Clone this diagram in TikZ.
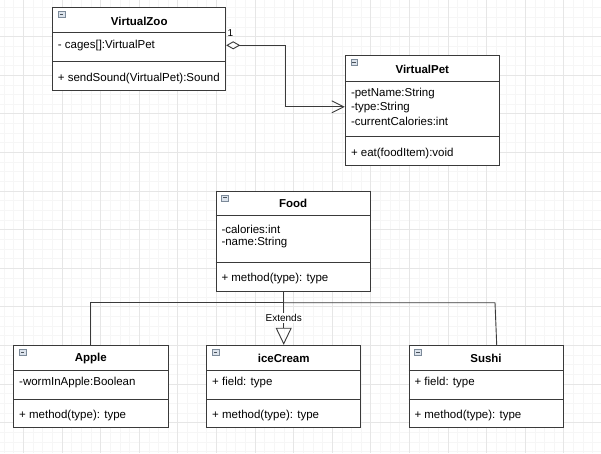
\documentclass[tikz,border=0pt]{standalone}
\usepackage{fontspec}
\setmainfont{Liberation Sans}
\usetikzlibrary{arrows.meta,calc}
\definecolor{gridmaj}{HTML}{E6E6E6}
\definecolor{gridmin}{HTML}{F6F6F6}
\definecolor{lnc}{HTML}{3A3A3A}
\definecolor{iconb}{HTML}{7C8A99}
\definecolor{iconf}{HTML}{DCE3EC}
\newcommand{\umlcls}[9]{%
  \node[clsbox, minimum width={(#4-#2)*1pt}, minimum height={(#5-#3)*1pt}]
    (#1) at ({(#2+#4)/2},{(#3+#5)/2}) {};
  \draw[boxline] (#1.west |- 0,#6) -- (#1.east |- 0,#6);
  \draw[boxline] (#1.west |- 0,#7) -- (#1.east |- 0,#7);
  \node[titletxt] (#1T) at ({(#2+#4)/2},#9) {#8};
  \draw[iconb, fill=iconf, line width=0.6pt] ($(#1.north west)+(6,4.3)$) rectangle ++(6.8,6);
  \draw[iconb!60!black, line width=0.8pt] ($(#1.north west)+(7.6,7.3)$) -- ++(3.6,0);
}
\begin{document}
\begin{tikzpicture}[x=1pt,y=-1pt,
  clsbox/.style={draw=lnc, line width=1pt, fill=white, inner sep=0pt, rectangle},
  boxline/.style={draw=lnc, line width=0.9pt},
  titletxt/.style={inner sep=0pt, font=\fontsize{11.5}{13}\selectfont\bfseries},
  membtxt/.style={inner sep=0pt, anchor=west, font=\fontsize{11.5}{13}\selectfont},
  conn/.style={draw=lnc, line width=0.9pt},
  lbl/.style={inner sep=1pt, font=\fontsize{10}{12}\selectfont}
]
\useasboundingbox (0,0) rectangle (601,453);
\fill[white] (0,0) rectangle (601,453);
% grid
\foreach \i in {0,...,62} {
  \draw[gridmin, line width=0.5pt] ({4.0+\i*9.65},0) -- ({4.0+\i*9.65},453);
}
\foreach \i in {0,...,47} {
  \draw[gridmin, line width=0.5pt] (0,{7.55+\i*9.65}) -- (601,{7.55+\i*9.65});
}
\foreach \i in {0,...,15} {
  \draw[gridmaj, line width=0.6pt] ({23.3+\i*38.6},0) -- ({23.3+\i*38.6},453);
}
\foreach \i in {1,...,12} {
  \draw[gridmaj, line width=0.6pt] (0,{-2.1+\i*38.6}) -- (601,{-2.1+\i*38.6});
}

% classes
\umlcls{zoo}{52.7}{7.7}{225.7}{90.3}{32.7}{61.7}{VirtualZoo}{21}
\node[membtxt] (zooA1) at (57.7,45.3) {- cages[]:VirtualPet};
\node[membtxt] (zooM1) at (57.7,78.7) {+ sendSound(VirtualPet):Sound};

\umlcls{pet}{345.3}{55.7}{499.3}{165.7}{81.3}{136.7}{VirtualPet}{69}
\node[membtxt] (petA1) at (350.8,93.3) {-petName:String};
\node[membtxt] (petA2) at (350.8,107.4) {-type:String};
\node[membtxt] (petA3) at (350.8,121.3) {-currentCalories:int};
\node[membtxt] (petM1) at (350.8,154) {+ eat(foodItem):void};

\umlcls{food}{216}{191}{370.3}{291}{215.7}{262}{Food}{203.7}
\node[membtxt] (foodA1) at (221.3,229) {-calories:int};
\node[membtxt] (foodA2) at (221.3,242.6) {-name:String};
\node[membtxt] (foodM1) at (221.3,279) {+ method(type): type};

\umlcls{apple}{13.7}{345.3}{168}{427.7}{370}{399}{Apple}{358.3}
\node[membtxt] (appleA1) at (19,382.7) {-wormInApple:Boolean};
\node[membtxt] (appleM1) at (19,416) {+ method(type): type};

\umlcls{ice}{206.7}{345.3}{360.7}{427.7}{370}{399}{iceCream}{358.3}
\node[membtxt] (iceA1) at (212,382.7) {+ field: type};
\node[membtxt] (iceM1) at (212,416) {+ method(type): type};

\umlcls{sushi}{409}{345.3}{563}{427.7}{370}{399}{Sushi}{358.3}
\node[membtxt] (sushiA1) at (414.3,382.7) {+ field: type};
\node[membtxt] (sushiM1) at (414.3,416) {+ method(type): type};

% aggregation VirtualZoo -> VirtualPet
\draw[conn, {Diamond[open, length=14pt, width=8pt, line width=0.9pt]}-{Straight Barb[length=12pt, width=12pt, line width=0.9pt]}]
  (zoo.east |- 0,45.3) -- (285.7,45.3) |- (pet.west |- 0,106.8);
\node[lbl, anchor=center] (mult) at (230.5,33.5) {1};

% generalization Food - subclasses
\coordinate (bus) at (ice.north |- 0,302.7);
\coordinate (sbend) at (495,302.7);
\draw[conn] (ice.north |- food.south) -- (bus);
\draw[conn, -{Triangle[open, length=17pt, width=16pt, line width=0.9pt]}] (bus) -- (ice.north);
\draw[conn] (apple.north) |- (bus);
\draw[conn] ($(sushi.north)+(10.7,0)$) -- (sbend) -- (bus);
\node[lbl, fill=white] (ext) at ($(ice.north |- 0,318)$) {Extends};
\end{tikzpicture}
\end{document}
